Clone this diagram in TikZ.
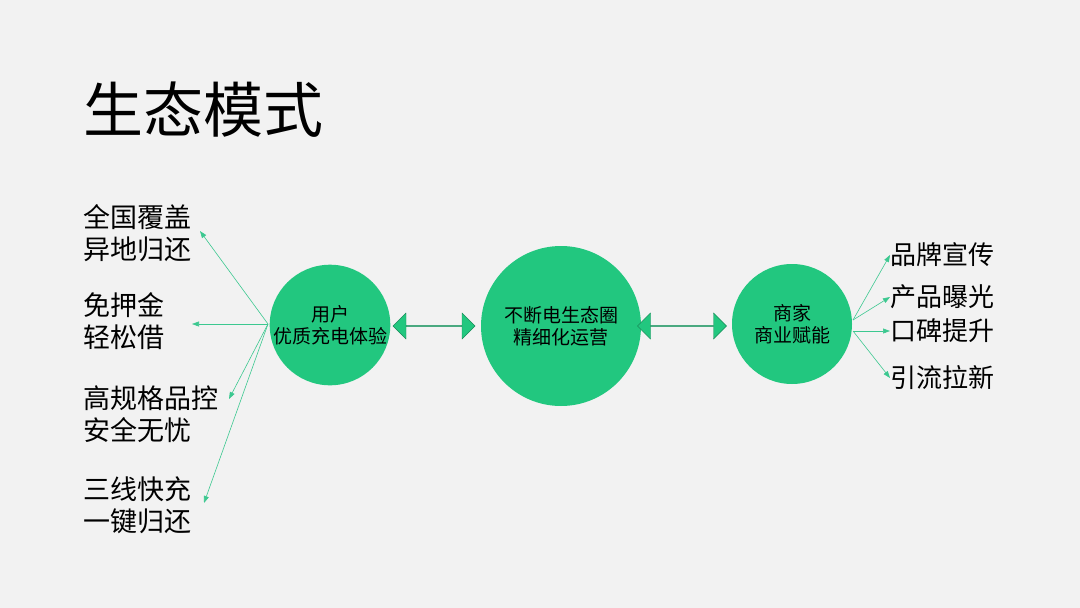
\documentclass[tikz,border=0pt]{standalone}
\usepackage{fontspec}
\setmainfont{Noto Sans CJK SC}
\usetikzlibrary{shapes.arrows,arrows.meta}
\definecolor{bg}{HTML}{F2F2F2}
\definecolor{gr}{HTML}{22C77F}
\definecolor{ln}{HTML}{3CC890}
\begin{document}
\begin{tikzpicture}[x=1pt,y=-1pt,
  circ/.style={circle,fill=gr,inner sep=0pt,align=center,font=\fontsize{19}{22}\selectfont},
  lab/.style={anchor=west,align=left,inner sep=0pt,font=\fontsize{27}{32}\selectfont},
  thin/.style={ln,line width=0.6pt,-{Triangle[length=7pt,width=5pt]}},
  dbl/.style={double arrow,fill=gr,draw=gr!70!black,line width=0.4pt,minimum height=#1,minimum width=26pt,double arrow head extend=6pt,inner sep=0pt,shape border uses incircle=false}]
\fill[bg] (0,0) rectangle (1080,608);
\useasboundingbox (0,0) rectangle (1080,608);
\node[anchor=west,inner sep=0pt,font=\fontsize{60}{64}\selectfont] (title) at (83,110) {生态模式};
\node[circ,minimum size=120pt] (u) at (330,325) {用户\\优质充电体验};
\node[circ,minimum size=160pt] (m) at (561,326) {不断电生态圈\\精细化运营};
\node[circ,minimum size=120pt] (s) at (792,324) {商家\\商业赋能};
\node[dbl=82pt] (a1) at (434,326) {};
\node[dbl=89pt] (a2) at (682,326) {};
\node[lab] (l1) at (83,233) {全国覆盖\\异地归还};
\node[lab] (l2) at (83,321) {免押金\\轻松借};
\node[lab] (l3) at (83,414) {高规格品控\\安全无忧};
\node[lab] (l4) at (83,505) {三线快充\\一键归还};
\coordinate (o) at (268,324);
\coordinate (t1) at (200,231);
\coordinate (t2) at (192,324);
\coordinate (t3) at (229,399);
\coordinate (t4) at (204,503);
\draw[thin] (o) -- (t1);
\draw[thin] (o) -- (t2);
\draw[thin] (o) -- (t3);
\draw[thin] (o) -- (t4);
\node[lab,font=\fontsize{26}{30}\selectfont] (r1) at (890,255) {品牌宣传};
\node[lab,font=\fontsize{26}{30}\selectfont] (r2) at (890,297) {产品曝光};
\node[lab,font=\fontsize{26}{30}\selectfont] (r3) at (890,331) {口碑提升};
\node[lab,font=\fontsize{26}{30}\selectfont] (r4) at (890,378) {引流拉新};
\coordinate (p1) at (853,320);
\coordinate (p2) at (853,331);
\draw[thin] (p1) -- (r1.west);
\draw[thin] (p1) -- (r2.west);
\draw[thin] (p2) -- (r3.west);
\draw[thin] (p2) -- (r4.west);
\end{tikzpicture}
\end{document}
